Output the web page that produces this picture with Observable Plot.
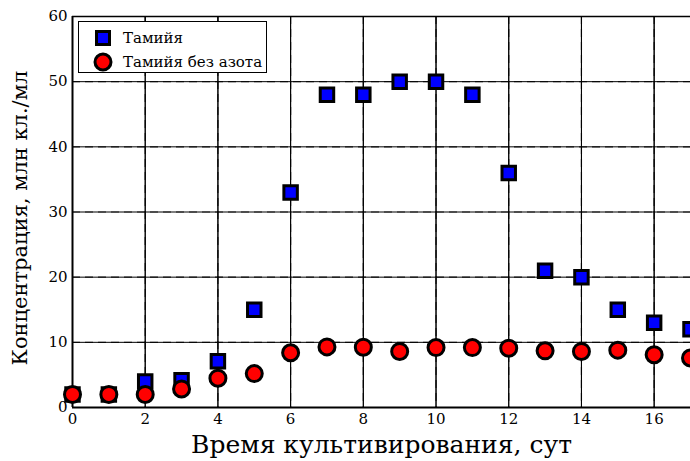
<!DOCTYPE html>
<html>
<head>
<meta charset="utf-8">
<script src="https://cdn.jsdelivr.net/npm/d3@7"></script>
<script src="https://cdn.jsdelivr.net/npm/@observablehq/plot@0.6"></script>
<style>
  html, body { margin: 0; padding: 0; background: #fff; overflow: hidden; }
  #wrap { position: relative; width: 690px; height: 461px; }
  #legend { position: absolute; left: 78px; top: 21px; width: 189px; height: 52px; box-sizing: border-box;
    border: 1.5px solid #000; background: #fff; font-family: "DejaVu Serif", serif; font-size: 15px; }
  .row { position: absolute; left: 0; height: 20px; display: flex; align-items: center; }
  .row span { position: absolute; left: 44px; white-space: nowrap; }
</style>
</head>
<body>
<div id="wrap"></div>
<script>
const days = [0,1,2,3,4,5,6,7,8,9,10,11,12,13,14,15,16,17];
const tamiya = [2,2,4,4.2,7.1,15,33,48,48,50,50,48,36,21,20,15,13,12];
const tamiyaNoN = [2,2,2,2.85,4.5,5.2,8.4,9.3,9.25,8.6,9.2,9.2,9.1,8.7,8.6,8.8,8.1,7.6];
const seriesNames = ["Тамийя", "Тамийя без азота"];
const xTicks = [0,2,4,6,8,10,12,14,16];
const yTicks = [0,10,20,30,40,50,60];
const xLabel = "Время культивирования, сут";
const yLabel = "Концентрация, млн кл./мл";

const sq = days.map((d, i) => ({day: d, v: tamiya[i]}));
const ci = days.map((d, i) => ({day: d, v: tamiyaNoN[i]}));

const font = "DejaVu Serif";
const dash = {stroke: "#333", strokeWidth: 1.2, strokeDasharray: "8 5"};
const chart = Plot.plot({
  width: 690, height: 461,
  marginLeft: 72, marginRight: 0, marginTop: 16, marginBottom: 54,
  style: {fontFamily: font, fontSize: "15px", background: "#fff", color: "#000"},
  x: {domain: [0, 17], label: null},
  y: {domain: [0, 60], label: null},
  marks: [
    Plot.ruleX(xTicks.filter(t => t > 0), {x: d => d, ...dash}),
    Plot.ruleY(yTicks.filter(t => t > 0 && t < 60), {y: d => d, ...dash}),
    Plot.tickY(yTicks, {y: d => d, x1: 0, x2: 0.14, stroke: "#000", strokeWidth: 1}),
    Plot.tickX(xTicks, {x: d => d, y1: 0, y2: 0.8, stroke: "#000", strokeWidth: 1}),
    Plot.tickX(xTicks, {x: d => d, y1: 59.2, y2: 60, stroke: "#000", strokeWidth: 1}),
    Plot.ruleY([0], {stroke: "#000", strokeWidth: 2}),
    Plot.ruleY([60], {stroke: "#000", strokeWidth: 1.5}),
    Plot.ruleX([0], {stroke: "#000", strokeWidth: 2}),
    Plot.axisX({ticks: xTicks, tickSize: 0, tickPadding: 6, fontSize: 15, fontFamily: font, label: null}),
    Plot.axisY({ticks: yTicks, tickSize: 0, tickPadding: 5, fontSize: 15, fontFamily: font, label: null}),
    Plot.dot(sq, {x: "day", y: "v", symbol: "square", r: 7.6, fill: "#0000ff", stroke: "#000", strokeWidth: 3}),
    Plot.dot(ci, {x: "day", y: "v", symbol: "circle", r: 8, fill: "#ff0000", stroke: "#000", strokeWidth: 3}),
    Plot.text([xLabel], {frameAnchor: "bottom", dy: 45, fontSize: 25, fontFamily: font, textAnchor: "middle"}),
    Plot.text([yLabel], {frameAnchor: "left", dx: -52, dy: 6, rotate: -90, fontSize: 21, fontFamily: font, textAnchor: "middle"})
  ]
});
const wrap = document.getElementById("wrap");
wrap.appendChild(chart);

const legend = document.createElement("div");
legend.id = "legend";
const symbols = [
  `<svg width="20" height="20" style="position:absolute;left:14px;top:0"><rect x="3.5" y="3.5" width="13" height="13" fill="#0000ff" stroke="#000" stroke-width="3"/></svg>`,
  `<svg width="22" height="22" style="position:absolute;left:13px;top:-1px"><circle cx="11" cy="11" r="8" fill="#ff0000" stroke="#000" stroke-width="3"/></svg>`
];
seriesNames.forEach((name, i) => {
  const row = document.createElement("div");
  row.className = "row";
  row.style.top = (6 + i * 24) + "px";
  row.innerHTML = symbols[i] + `<span>${name}</span>`;
  legend.appendChild(row);
});
wrap.appendChild(legend);
</script>
</body>
</html>
